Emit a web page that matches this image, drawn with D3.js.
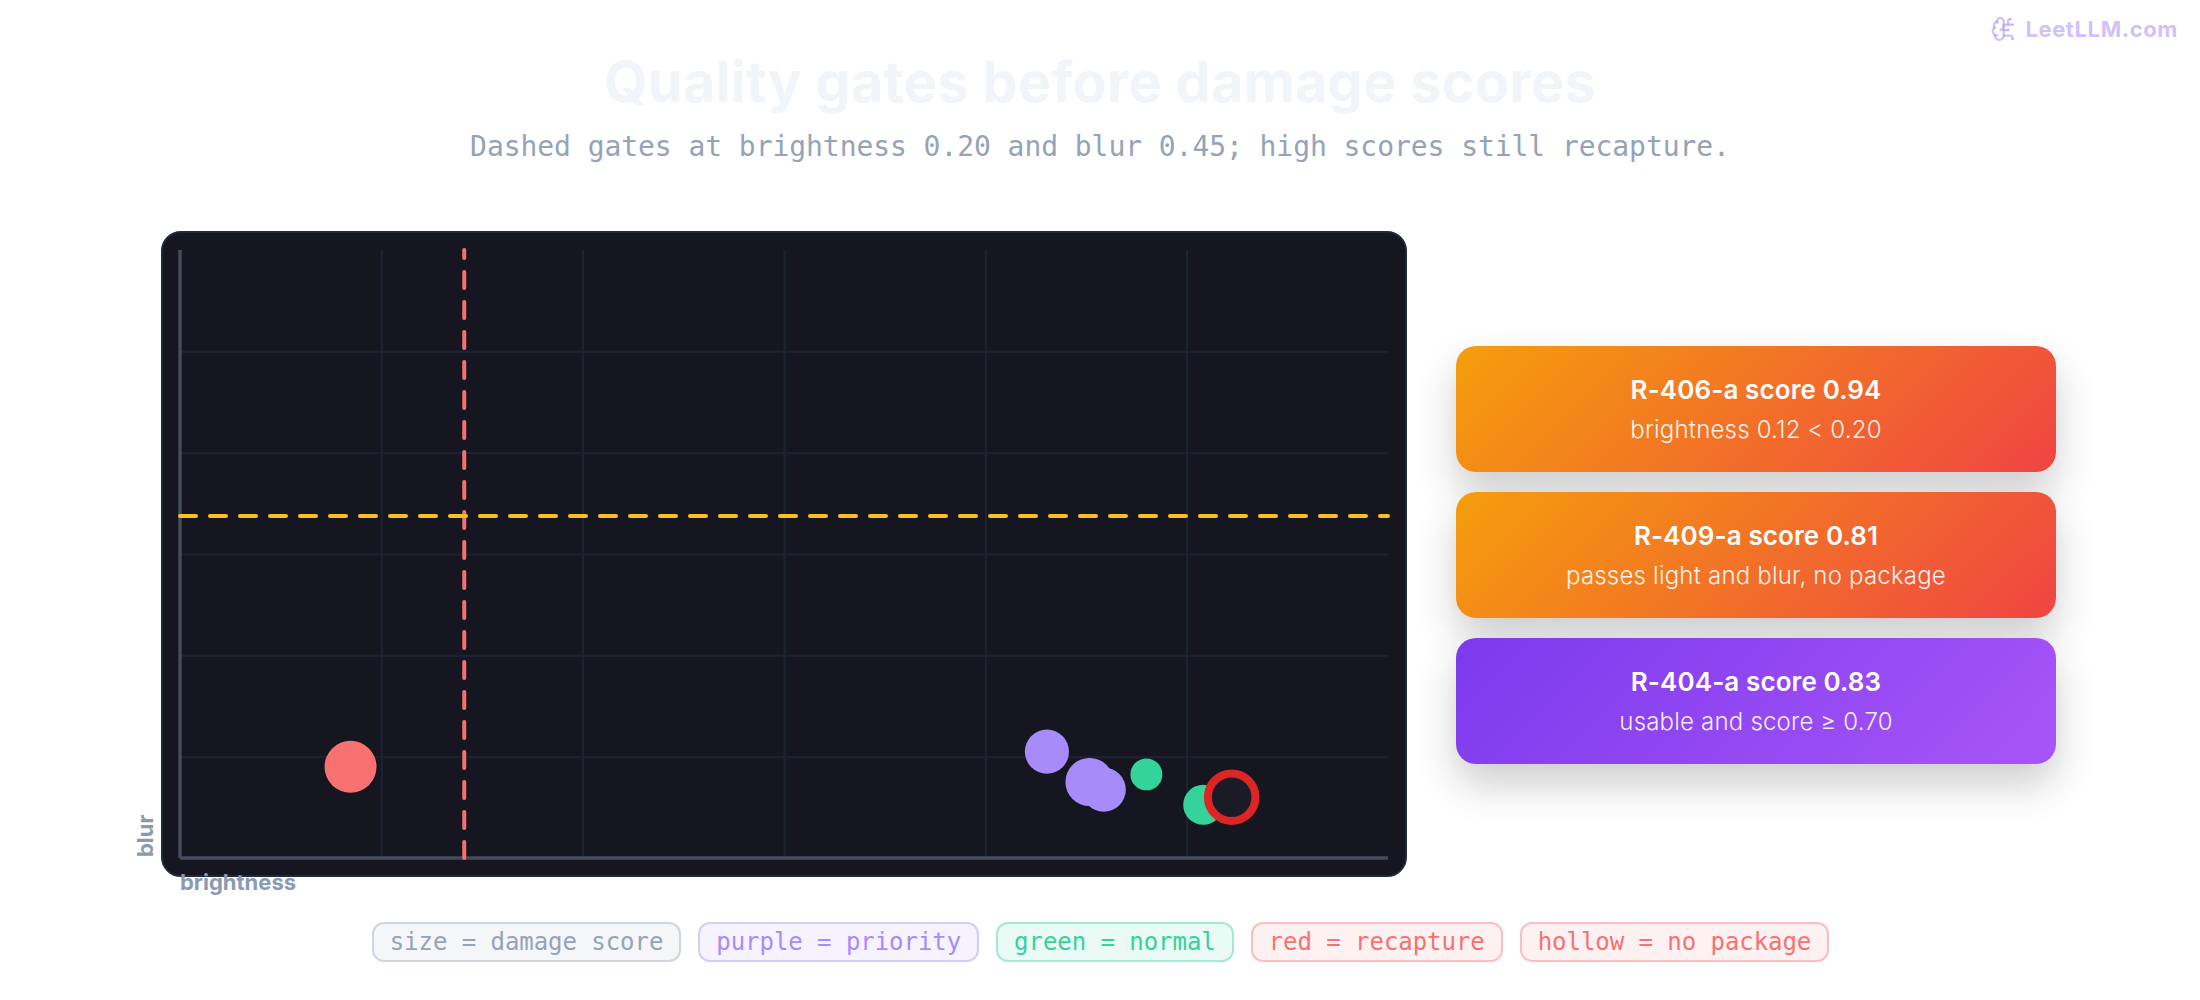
<!DOCTYPE html>
<html><head><meta charset="utf-8">
<script src="https://cdn.jsdelivr.net/npm/d3@7/dist/d3.min.js"></script>
<style>
html,body{margin:0;padding:0;background:#fff;width:2200px;height:1000px;overflow:hidden}
#root{position:relative;width:2200px;height:1000px}
svg{position:absolute;left:0;top:0}
.card{position:absolute;left:1456px;width:600px;height:126px;border-radius:20px;color:#fff;text-align:center;font-family:Inter,sans-serif;box-shadow:0 20px 40px rgba(0,0,0,.2)}
.card .a{position:absolute;left:0;right:0;top:28px;font-size:26px;line-height:32px;font-weight:600;letter-spacing:.1px}
.card .b{position:absolute;left:0;right:0;top:68px;font-size:24px;line-height:32px;font-weight:300;opacity:.9;letter-spacing:.2px}
#pills{position:absolute;left:0;width:2201px;top:922px;display:flex;justify-content:center;gap:17px}
.pill{box-sizing:border-box;height:40px;line-height:36px;padding:0 16px;border:2px solid;border-radius:12px;font-family:"DejaVu Sans Mono",monospace;font-size:24px;white-space:pre;letter-spacing:-.05px}
</style></head>
<body><div id="root"></div>
<script>
const pointIds = ["R-406-a","R-401-a","R-404-a","R-403-a","R-402-a","R-405-a","R-409-a"];
const brightness = [0.12,0.61,0.64,0.65,0.68,0.72,0.74];
const blur = [0.12,0.14,0.10,0.09,0.11,0.07,0.08];
const score = [0.94,0.71,0.83,0.71,0.35,0.59,0.81];
const kind = ["recapture","priority","priority","priority","normal","normal","hollow"];
const gateBrightness = 0.20, gateBlur = 0.45;
const gridX = [0.85/6,0.85*2/6,0.85*3/6,0.85*4/6,0.85*5/6];
const gridY = [0.8/6,0.8*2/6,0.8*3/6,0.8*4/6,0.8*5/6];
const titleText = "Quality gates before damage scores";
const subtitleText = "Dashed gates at brightness 0.20 and blur 0.45; high scores still recapture.";
const cardTitles = ["R-406-a score 0.94","R-409-a score 0.81","R-404-a score 0.83"];
const cardNotes = ["brightness 0.12 < 0.20","passes light and blur, no package","usable and score ≥ 0.70"];
const cardGradients = ["linear-gradient(135deg,#f59e0b,#ef4444)","linear-gradient(135deg,#f59e0b,#ef4444)","linear-gradient(135deg,#7c3aed,#a855f7)"];
const cardTops = [346,492,638];
const legendTexts = ["size = damage score","purple = priority","green = normal","red = recapture","hollow = no package"];
const legendColors = ["148,163,184","167,139,250","52,211,153","248,113,113","248,113,113"];
const colors = {recapture:"#f87171",priority:"#a78bfa",normal:"#34d399"};

const root = d3.select("#root");
const svg = root.append("svg").attr("width",2200).attr("height",1000);

// titles
svg.append("text").attr("x",1100).attr("y",102).attr("text-anchor","middle")
  .attr("font-family","Inter").attr("font-weight",700).attr("font-size",56).attr("letter-spacing",.17).attr("fill","#f1f5f9").text(titleText);
svg.append("text").attr("x",1100).attr("y",156).attr("text-anchor","middle")
  .attr("font-family","DejaVu Sans Mono").attr("font-size",28).attr("letter-spacing",-.06).attr("fill","#94a3b8").text(subtitleText);

// panel
svg.append("rect").attr("x",162).attr("y",232).attr("width",1244).attr("height",644).attr("rx",19)
  .attr("fill","#15161f").attr("stroke","#1e293b").attr("stroke-width",2);

const x = d3.scaleLinear().domain([0,0.85]).range([180,1388]);
const y = d3.scaleLinear().domain([0,0.8]).range([858,250]);
const r = d3.scaleLinear().domain([0,1]).range([10,27]);

// grid
const gx = svg.append("g").attr("transform","translate(0,858)")
  .call(d3.axisBottom(x).tickValues(gridX).tickSize(-608).tickFormat(""));
const gy = svg.append("g").attr("transform","translate(180,0)")
  .call(d3.axisLeft(y).tickValues(gridY).tickSize(-1208).tickFormat(""));
[gx,gy].forEach(g=>{g.select(".domain").remove();g.selectAll("line").attr("stroke","#1c2433").attr("stroke-width",2);});

// axes
svg.append("line").attr("x1",x(0)).attr("x2",x(0)).attr("y1",y(0)).attr("y2",y(0.8)).attr("stroke","#434b5e").attr("stroke-width",3.5);
svg.append("line").attr("x1",x(0)).attr("x2",x(0.85)).attr("y1",y(0)).attr("y2",y(0)).attr("stroke","#434b5e").attr("stroke-width",3.5);

// gates
svg.append("line").attr("x1",x(gateBrightness)).attr("x2",x(gateBrightness)).attr("y1",y(0)).attr("y2",y(0.8))
  .attr("stroke","#f87171").attr("stroke-width",4).attr("stroke-dasharray","16 14").attr("stroke-linecap","round");
svg.append("line").attr("x1",x(0)).attr("x2",x(0.85)).attr("y1",y(gateBlur)).attr("y2",y(gateBlur))
  .attr("stroke","#fbbf24").attr("stroke-width",4).attr("stroke-dasharray","16 14").attr("stroke-linecap","round");

// points
svg.append("g").selectAll("circle").data(pointIds).join("circle")
  .attr("data-id",d=>d)
  .attr("cx",(d,i)=>x(brightness[i])).attr("cy",(d,i)=>y(blur[i])).attr("r",(d,i)=>r(score[i]))
  .attr("fill",(d,i)=>kind[i]==="hollow"?"#1a1b26":colors[kind[i]])
  .attr("stroke",(d,i)=>kind[i]==="hollow"?"#dc2626":"none")
  .attr("stroke-width",(d,i)=>kind[i]==="hollow"?8:0);

// axis labels
svg.append("text").attr("x",180).attr("y",890).attr("font-family","Inter").attr("font-weight",700).attr("font-size",22).attr("fill","#8a9ab3").text("brightness");
svg.append("text").attr("transform","translate(153,857) rotate(-90)").attr("font-family","Inter").attr("font-weight",700).attr("font-size",22).attr("fill","#8a9ab3").text("blur");

// watermark
const wm = svg.append("g").attr("transform","translate(1990.5,15.8) scale(1.1)").attr("fill","none").attr("stroke","#a78bfa").attr("stroke-opacity",.55).attr("stroke-width",2).attr("stroke-linecap","round").attr("stroke-linejoin","round");
["M12 5a3 3 0 1 0-5.997.125 4 4 0 0 0-2.526 5.77 4 4 0 0 0 .556 6.588A4 4 0 1 0 12 18Z","M9 13a4.5 4.5 0 0 0 3-4","M6.003 5.125A3 3 0 0 0 6.401 6.5","M3.477 10.896a4 4 0 0 1 .585-.396","M6 18a4 4 0 0 1-1.967-.516","M12 13h4","M12 18h6a2 2 0 0 1 2 2v1","M12 8h8","M16 8V5a2 2 0 0 1 2-2","M16 13h.01","M18 3h.01","M20 21h.01","M20 8h.01"].forEach(p=>wm.append("path").attr("d",p));
svg.append("text").attr("x",2178).attr("y",37).attr("text-anchor","end").attr("font-family","Inter").attr("font-weight",700).attr("font-size",22).attr("letter-spacing",.6).attr("fill","#a78bfa").attr("fill-opacity",.55).text("LeetLLM.com");

// cards
const cards = root.selectAll("div.card").data(cardTitles).join("div").attr("class","card")
  .style("top",(d,i)=>cardTops[i]+"px").style("background",(d,i)=>cardGradients[i]);
cards.append("div").attr("class","a").text(d=>d);
cards.append("div").attr("class","b").text((d,i)=>cardNotes[i]);

// legend
root.append("div").attr("id","pills").selectAll("div").data(legendTexts).join("div").attr("class","pill")
  .text(d=>d)
  .style("color",(d,i)=>`rgb(${legendColors[i]})`)
  .style("background",(d,i)=>`rgba(${legendColors[i]},.1)`)
  .style("border-color",(d,i)=>`rgba(${legendColors[i]},.4)`);
</script>
</body></html>
